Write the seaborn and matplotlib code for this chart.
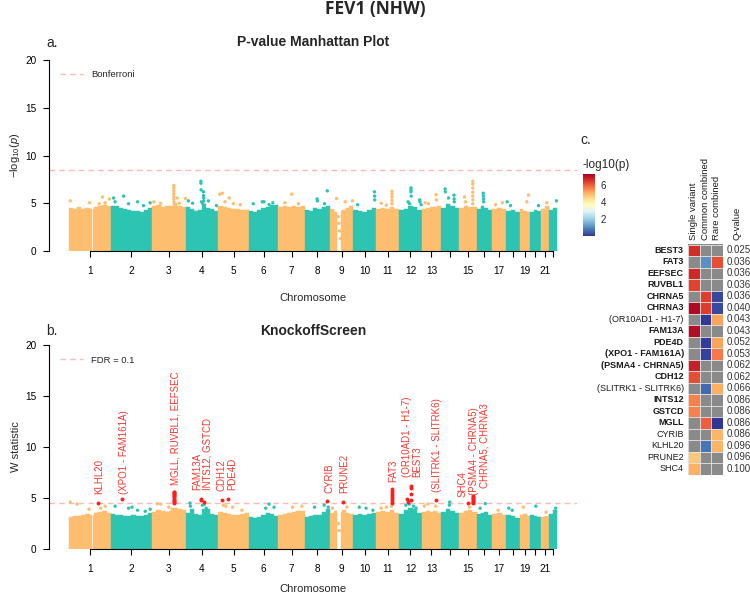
import numpy as np
import pandas as pd
import matplotlib
matplotlib.use("Agg")
import matplotlib.pyplot as plt
from matplotlib.lines import Line2D
import seaborn as sns

sns.set_style("ticks")
plt.rcParams["font.family"] = ["Liberation Sans", "DejaVu Sans"]
plt.rcParams["mathtext.fontset"] = "custom"
plt.rcParams["mathtext.rm"] = "Liberation Sans"
plt.rcParams["mathtext.it"] = "Liberation Sans:italic"

ORANGE = "#FDBF6F"
TEAL = "#2EC4B2"
RED = "#FF1E1E"
LABEL_RED = "#F23A32"
LINE_PINK = "#FFB8B8"
GRAY = "#8A8A8A"

# ---- chromosome layout (Mb) ----
chrom_len = [248.9, 242.2, 198.3, 190.2, 181.5, 170.8, 159.3, 145.1, 138.4, 133.8,
             135.1, 133.3, 114.4, 107.0, 102.0, 90.3, 83.3, 80.4, 58.6, 64.4, 46.7, 50.8]
tick_labels = ["1", "2", "3", "4", "5", "6", "7", "8", "9", "10", "11", "12", "13",
               "", "15", "", "17", "", "19", "", "21", ""]
gap_chrom = [1, 9]
gap_start = [137, 44]
gap_end = [146, 66]

# ---- panel a: -log10(p) cloud, binned upper envelope per chromosome ----
mass_a = [
    [4.5, 4.4, 4.6, 4.4, 4.5, 4.4, 4.6, 4.7, 4.8, 4.7],
    [4.7, 4.7, 4.5, 4.4, 4.3, 4.2, 4.2, 4.1, 4.3, 4.5],
    [4.7, 4.8, 4.6, 4.7, 4.7, 5.0, 4.7, 4.6],
    [4.6, 4.4, 4.2, 4.3, 4.9, 4.5, 4.4, 4.2],
    [4.7, 4.6, 4.5, 4.4, 4.4, 4.3, 4.3],
    [4.2, 4.1, 4.3, 4.5, 4.6, 4.8, 4.8],
    [4.6, 4.7, 4.6, 4.7, 4.6, 4.7],
    [4.3, 4.2, 4.5, 4.4, 4.6, 4.7],
    [4.4, 4.1, 4.2, 4.3, 4.5, 4.7],
    [4.3, 4.2, 4.1, 4.3, 4.5],
    [4.4, 4.5, 4.4, 4.6, 4.4],
    [4.3, 4.4, 4.7, 4.6, 4.3],
    [4.4, 4.5, 4.6, 4.6, 4.7],
    [4.5, 4.9, 4.7, 4.5],
    [4.5, 4.7, 4.6, 4.6],
    [4.4, 4.7, 4.5, 4.3],
    [4.4, 4.5, 4.4],
    [4.2, 4.3, 4.1],
    [4.4, 4.2, 4.1],
    [4.1, 4.3, 4.2],
    [4.4, 4.7],
    [4.3, 4.5],
]
pts_a_pos = [
    [10, 123, 200, 240, 215, 180],
    [16, 25, 75, 104, 157, 192, 231],
    [10, 50, 147, 160, 196, 128, 128, 128, 128, 128, 128, 128],
    [15, 40, 89, 89, 90, 104, 104, 105, 106, 92, 100, 133, 180],
    [10, 25, 40, 65, 90, 130],
    [25, 78, 88, 118, 140],
    [40, 80, 120],
    [70, 72, 114, 130],
    [40, 50, 54, 58, 62, 90, 133],
    [25, 124, 125, 126],
    [30, 60, 93, 93, 93, 93, 93],
    [53, 62, 70, 70, 70, 71, 121, 123, 130],
    [20, 40, 84, 86],
    [23, 24, 43, 75, 76, 77],
    [30, 35, 78.5, 78.5, 78.5, 78.5, 78.5, 78.5, 78.5],
    [38, 39, 40, 41],
    [20, 60],
    [5, 25],
    [50, 40],
    [50],
    [35],
    [45],
]
pts_a_val = [
    [5.25, 5.05, 5.65, 5.45, 5.05, 4.95],
    [5.55, 5.15, 5.75, 4.95, 5.15, 4.75, 5.05],
    [5.15, 5.0, 5.55, 5.0, 5.5, 5.1, 5.4, 5.7, 6.0, 6.3, 6.6, 6.85],
    [5.25, 5.0, 7.3, 7.1, 6.4, 6.2, 5.8, 5.55, 5.25, 5.15, 4.95, 5.25, 4.75],
    [5.95, 6.05, 5.15, 5.55, 4.95, 4.85],
    [4.95, 5.15, 5.15, 4.85, 5.05],
    [5.05, 5.95, 4.95],
    [5.45, 5.25, 4.95, 6.3],
    [5.5, 3.6, 2.9, 2.1, 1.3, 5.15, 5.25],
    [4.85, 6.2, 5.75, 5.35],
    [5.0, 4.8, 4.95, 5.3, 5.65, 5.95, 6.25],
    [5.15, 4.95, 6.6, 6.4, 6.2, 5.75, 5.35, 5.15, 4.85],
    [5.05, 4.95, 5.9, 5.35],
    [6.5, 6.2, 5.55, 5.85, 5.45, 5.15],
    [5.65, 5.15, 4.95, 5.35, 5.75, 6.15, 6.6, 7.0, 7.3],
    [6.05, 5.75, 5.45, 5.15],
    [4.85, 5.05],
    [5.15, 4.75],
    [5.85, 5.15],
    [4.75],
    [5.05],
    [5.25],
]
bonferroni = 8.5

# ---- panel b: KnockoffScreen W statistic ----
mass_b = [
    [3.1, 3.2, 3.2, 3.3, 3.4, 3.3, 3.5, 3.6, 3.7, 3.5],
    [3.4, 3.3, 3.3, 3.2, 3.2, 3.3, 3.2, 3.2, 3.3, 3.5],
    [3.6, 3.8, 3.7, 3.6, 3.7, 4.0, 3.9, 3.8],
    [3.5, 3.9, 3.4, 3.3, 3.9, 3.9, 3.4, 3.3],
    [3.6, 3.5, 3.4, 3.3, 3.3, 3.4, 3.5],
    [3.1, 3.0, 3.1, 3.3, 3.5, 3.4, 3.2],
    [3.3, 3.4, 3.5, 3.6, 3.7, 3.7],
    [3.1, 3.2, 3.3, 3.3, 3.6, 3.9],
    [3.5, 3.7, 3.6, 3.8, 3.5, 3.4],
    [3.3, 3.4, 3.3, 3.4, 3.5],
    [3.6, 3.7, 3.6, 3.8, 3.5],
    [3.4, 3.8, 4.0, 3.9, 3.5],
    [3.6, 3.7, 3.6, 3.7, 3.5],
    [3.6, 3.9, 3.7, 3.5],
    [3.5, 3.7, 3.8, 3.6],
    [3.4, 3.5, 3.6, 3.3],
    [3.4, 3.5, 3.3],
    [3.3, 3.2, 3.0],
    [3.3, 3.4, 3.2],
    [3.3, 3.2, 3.1],
    [3.1, 3.2],
    [3.4, 3.8],
]
pts_b_pos = [
    [10, 50, 120, 190, 215],
    [25, 104, 124, 157, 202, 231],
    [30, 50, 98, 118],
    [25, 27, 98, 110, 120],
    [30, 45, 85, 140],
    [98, 118, 147],
    [85, 140],
    [55, 112, 136],
    [15, 100, 50, 55],
    [35, 75, 115],
    [30, 60, 90],
    [40, 60, 85, 100],
    [15, 35, 82],
    [50, 48],
    [60],
    [20, 50],
    [35],
    [15, 35],
    [20],
    [35],
    [30],
    [40],
]
pts_b_val = [
    [4.6, 4.4, 3.9, 4.0, 4.2],
    [4.2, 4.0, 4.1, 3.8, 3.7, 3.9],
    [4.45, 4.4, 4.1, 3.9],
    [4.5, 4.2, 4.3, 4.4, 4.0],
    [4.3, 4.2, 4.1, 3.8],
    [4.0, 4.4, 4.1],
    [4.1, 4.2],
    [4.1, 4.3, 4.1],
    [4.0, 4.1, 2.5, 1.8],
    [4.1, 4.0, 3.8],
    [4.0, 4.1, 4.2],
    [4.3, 4.4, 4.2, 4.0],
    [4.2, 4.4, 4.2],
    [4.6, 4.3],
    [4.1],
    [4.0, 4.45],
    [3.8],
    [4.0, 3.8],
    [4.1],
    [4.2],
    [3.6],
    [4.0],
]
fdr_line = 4.55

hit_chr = [1, 2] + [3] * 12 + [4, 4, 4, 5, 5, 8, 9] + [11] * 8 + [12] * 6 + [13, 15] + [15] * 8
hit_pos = ([173.7, 65] + [128] * 12 + [89, 91, 105.5, 21.7, 59, 130, 76.6] + [92.3] * 8
           + [48.2, 50, 69.7, 69.7, 70.5, 70.5] + [83.8, 48.9] + [78.5] * 8)
hit_w = ([4.55, 4.9]
         + [4.55, 4.65, 4.75, 4.85, 4.95, 5.05, 5.15, 5.25, 5.35, 5.45, 5.55, 5.62]
         + [4.95, 4.8, 4.6, 4.8, 4.9, 4.7, 4.6]
         + [4.5, 4.7, 4.9, 5.1, 5.3, 5.5, 5.7, 5.85]
         + [4.95, 4.6, 6.2, 6.0, 5.4, 4.8]
         + [4.8, 4.5]
         + [4.5, 4.6, 4.7, 4.8, 4.9, 5.0, 5.1, 5.2])

label_text = ["KLHL20", "(XPO1 - FAM161A)", "MGLL, RUVBL1, EEFSEC", "FAM13A", "INTS12, GSTCD",
              "CDH12", "PDE4D", "CYRIB", "PRUNE2", "FAT3", "(OR10AD1 - H1-7)", "BEST3",
              "(SLITRK1 - SLITRK6)", "SHC4", "(PSMA4 - CHRNA5)", "CHRNA5, CHRNA3"]
label_x = [180.6, 323.5, 627.6, 755.3, 817.6, 896.5, 964.7, 1533.5, 1621.8, 1908.2,
           1990.6, 2049.4, 2167.0, 2314.1, 2382.4, 2445.3]
label_y = [5.4, 5.4, 6.3, 5.8, 5.8, 5.7, 5.8, 5.45, 5.45, 6.6, 7.1, 7.1, 5.6, 5.1, 5.3, 5.95]

# ---- panel c: gene heatmap ----
genes = ["BEST3", "FAT3", "EEFSEC", "RUVBL1", "CHRNA5", "CHRNA3", "(OR10AD1 - H1-7)", "FAM13A",
         "PDE4D", "(XPO1 - FAM161A)", "(PSMA4 - CHRNA5)", "CDH12", "(SLITRK1 - SLITRK6)",
         "INTS12", "GSTCD", "MGLL", "CYRIB", "KLHL20", "PRUNE2", "SHC4"]
gene_bold = [1, 1, 1, 1, 1, 1, 0, 1, 1, 1, 1, 1, 0, 1, 1, 1, 0, 0, 0, 0]
nan = np.nan
single_variant = [6.6, nan, 6.7, 6.35, nan, 7.15, nan, 7.1, nan, nan, 6.8, 6.2, nan,
                  5.6, 5.6, nan, nan, nan, 4.75, 5.1]
common_combined = [nan, 1.1, nan, nan, 6.4, 6.4, 0.05, nan, 0.1, 0.15, nan, nan, 0.6,
                   nan, nan, 6.0, nan, 0.75, nan, nan]
rare_combined = [nan, 6.2, nan, nan, 0.2, 0.25, 5.2, nan, 5.2, 5.7, nan, nan, 5.1,
                 nan, nan, 0.0, 5.0, 5.0, nan, nan]
q_values = [0.025, 0.036, 0.036, 0.036, 0.036, 0.040, 0.043, 0.043, 0.052, 0.053,
            0.062, 0.062, 0.066, 0.086, 0.086, 0.086, 0.086, 0.096, 0.096, 0.100]

offsets = np.concatenate([[0], np.cumsum(chrom_len)[:-1]])
total = float(np.sum(chrom_len))
centers = offsets + np.array(chrom_len) / 2


def draw_cloud(ax, mass, pts_pos, pts_val):
    for c, heights in enumerate(mass):
        col = ORANGE if c % 2 == 0 else TEAL
        edges = np.linspace(0, chrom_len[c], len(heights) + 1)
        for i, h in enumerate(heights):
            segs = [(edges[i], edges[i + 1])]
            for g, gs, ge in zip(gap_chrom, gap_start, gap_end):
                if g != c + 1:
                    continue
                new = []
                for lo, hi in segs:
                    if ge <= lo or gs >= hi:
                        new.append((lo, hi))
                    else:
                        if gs > lo:
                            new.append((lo, gs))
                        if ge < hi:
                            new.append((ge, hi))
                segs = new
            for lo, hi in segs:
                ax.bar(offsets[c] + lo, h, width=hi - lo, align="edge",
                       color=col, edgecolor=col, linewidth=0.3, zorder=1)
    rows = []
    for c in range(len(mass)):
        for p, v in zip(pts_pos[c], pts_val[c]):
            rows.append({"gx": offsets[c] + p, "val": v, "kind": "o" if c % 2 == 0 else "t"})
    df = pd.DataFrame(rows)
    sns.scatterplot(data=df, x="gx", y="val", hue="kind", palette={"o": ORANGE, "t": TEAL},
                    s=6, linewidth=0, legend=False, ax=ax, zorder=2)


def style_axis(ax, line_y, line_label):
    ax.axhline(line_y, color=LINE_PINK, ls=(0, (4, 3)), lw=1, zorder=0.5)
    ax.set_xlim(-0.04 * total, 1.04 * total)
    ax.set_ylim(0, 20)
    sns.despine(ax=ax)
    ax.spines["left"].set_bounds(0, 20)
    ax.spines["bottom"].set_bounds(centers[0], centers[-1])
    for s in ["left", "bottom"]:
        ax.spines[s].set_linewidth(0.8)
        ax.spines[s].set_color("black")
    ax.set_xticks(centers)
    ax.set_xticklabels(tick_labels)
    ax.set_yticks([0, 5, 10, 15, 20])
    ax.tick_params(axis="x", length=4, width=0.8, labelsize=7.2, pad=7, colors="black")
    ax.tick_params(axis="y", length=4, width=0.8, labelsize=7.2, pad=5, colors="black")
    ax.set_xlabel("")
    ax.set_ylabel("")
    handle = Line2D([0], [0], color=LINE_PINK, ls=(0, (4, 3)), lw=1)
    ax.legend([handle], [line_label], loc="upper left", bbox_to_anchor=(0.005, 0.99),
              frameon=False, fontsize=6.8, handlelength=2.4, handletextpad=0.9)


fig = plt.figure(figsize=(7.5, 6), dpi=100)
ax_a = fig.add_axes([49 / 750, 1 - 251 / 600, 528 / 750, 191 / 600])
ax_b = fig.add_axes([49 / 750, 1 - 549 / 600, 528 / 750, 204 / 600])
ax_h = fig.add_axes([688 / 750, 1 - 474.5 / 600, 34.5 / 750, 230 / 600])
ax_cb = fig.add_axes([583 / 750, 1 - 236 / 600, 12 / 750, 62 / 600])

# panel a
draw_cloud(ax_a, mass_a, pts_a_pos, pts_a_val)
style_axis(ax_a, bonferroni, "Bonferroni")

# panel b
draw_cloud(ax_b, mass_b, pts_b_pos, pts_b_val)
hits = pd.DataFrame({"gx": offsets[np.array(hit_chr) - 1] + np.array(hit_pos), "w": hit_w})
sns.scatterplot(data=hits, x="gx", y="w", color=RED, s=8, linewidth=0, ax=ax_b, zorder=3)
for t, x, y in zip(label_text, label_x, label_y):
    ax_b.text(x, y, t, rotation=90, ha="center", va="bottom", color=LABEL_RED, fontsize=7)
style_axis(ax_b, fdr_line, "FDR = 0.1")

# panel c
hm = pd.DataFrame({"Single variant": single_variant, "Common combined": common_combined,
                   "Rare combined": rare_combined}, index=genes)
sns.heatmap(hm, ax=ax_h, cmap="RdYlBu_r", vmin=0, vmax=7.3, cbar_ax=ax_cb,
            cbar_kws={"ticks": [2, 4, 6]}, xticklabels=True, yticklabels=True)
ax_h.set_facecolor(GRAY)
ax_h.hlines(np.arange(len(genes) + 1), 0, hm.shape[1], color="#E6E6E6", lw=0.6)
ax_h.vlines(np.arange(hm.shape[1] + 1), 0, len(genes), color="#E6E6E6", lw=0.6)
ax_h.xaxis.tick_top()
ax_h.set_xticks(np.arange(hm.shape[1]) + 0.5)
ax_h.set_xticklabels(hm.columns, rotation=90, fontsize=6.8, color="#1a1a1a")
ax_h.set_yticks(np.arange(len(genes)) + 0.5)
ax_h.set_yticklabels(genes, rotation=0, fontsize=6.5, color="#1a1a1a")
for lbl, b in zip(ax_h.get_yticklabels(), gene_bold):
    lbl.set_fontweight("bold" if b else "normal")
ax_h.tick_params(length=0, pad=3)
ax_h.set_xlabel("")
ax_h.set_ylabel("")
for i, q in enumerate(q_values):
    ax_h.text(3.38, i + 0.5, f"{q:.3f}", ha="left", va="center", fontsize=7, color="#333333")
ax_h.text(4.25, -0.35, "Q-value", rotation=90, ha="center", va="bottom", fontsize=6.8,
          color="#1a1a1a")
cbar = ax_h.collections[0].colorbar
cbar.outline.set_visible(False)
ax_cb.tick_params(length=0, labelsize=7, pad=4)

# texts
fig.text(0.5, 1 - 9 / 600, "FEV1 (NHW)", ha="center", va="center", fontsize=12.5,
         fontweight="bold", family=["Open Sans", "DejaVu Sans"])
fig.text(313 / 750, 1 - 42 / 600, "P-value Manhattan Plot", ha="center", va="center",
         fontsize=10, fontweight="bold")
fig.text(313 / 750, 1 - 331 / 600, "KnockoffScreen", ha="center", va="center",
         fontsize=10, fontweight="bold")
fig.text(52 / 750, 1 - 43 / 600, "a.", ha="center", va="center", fontsize=10)
fig.text(52 / 750, 1 - 331 / 600, "b.", ha="center", va="center", fontsize=10)
fig.text(586 / 750, 1 - 140 / 600, "c.", ha="center", va="center", fontsize=10)
fig.text(582.5 / 750, 1 - 165 / 600, "-log10(p)", ha="left", va="center", fontsize=8.5)
fig.text(15 / 750, 1 - 155 / 600, r"$-\mathrm{log}_{10}(\mathit{p})$", rotation=90,
         ha="center", va="center", fontsize=8)
fig.text(16 / 750, 1 - 447 / 600, "W statistic", rotation=90, ha="center", va="center",
         fontsize=8)
fig.text(313 / 750, 1 - 298 / 600, "Chromosome", ha="center", va="center", fontsize=8)
fig.text(313 / 750, 1 - 589 / 600, "Chromosome", ha="center", va="center", fontsize=8)

fig.savefig("out.png", dpi=100)
